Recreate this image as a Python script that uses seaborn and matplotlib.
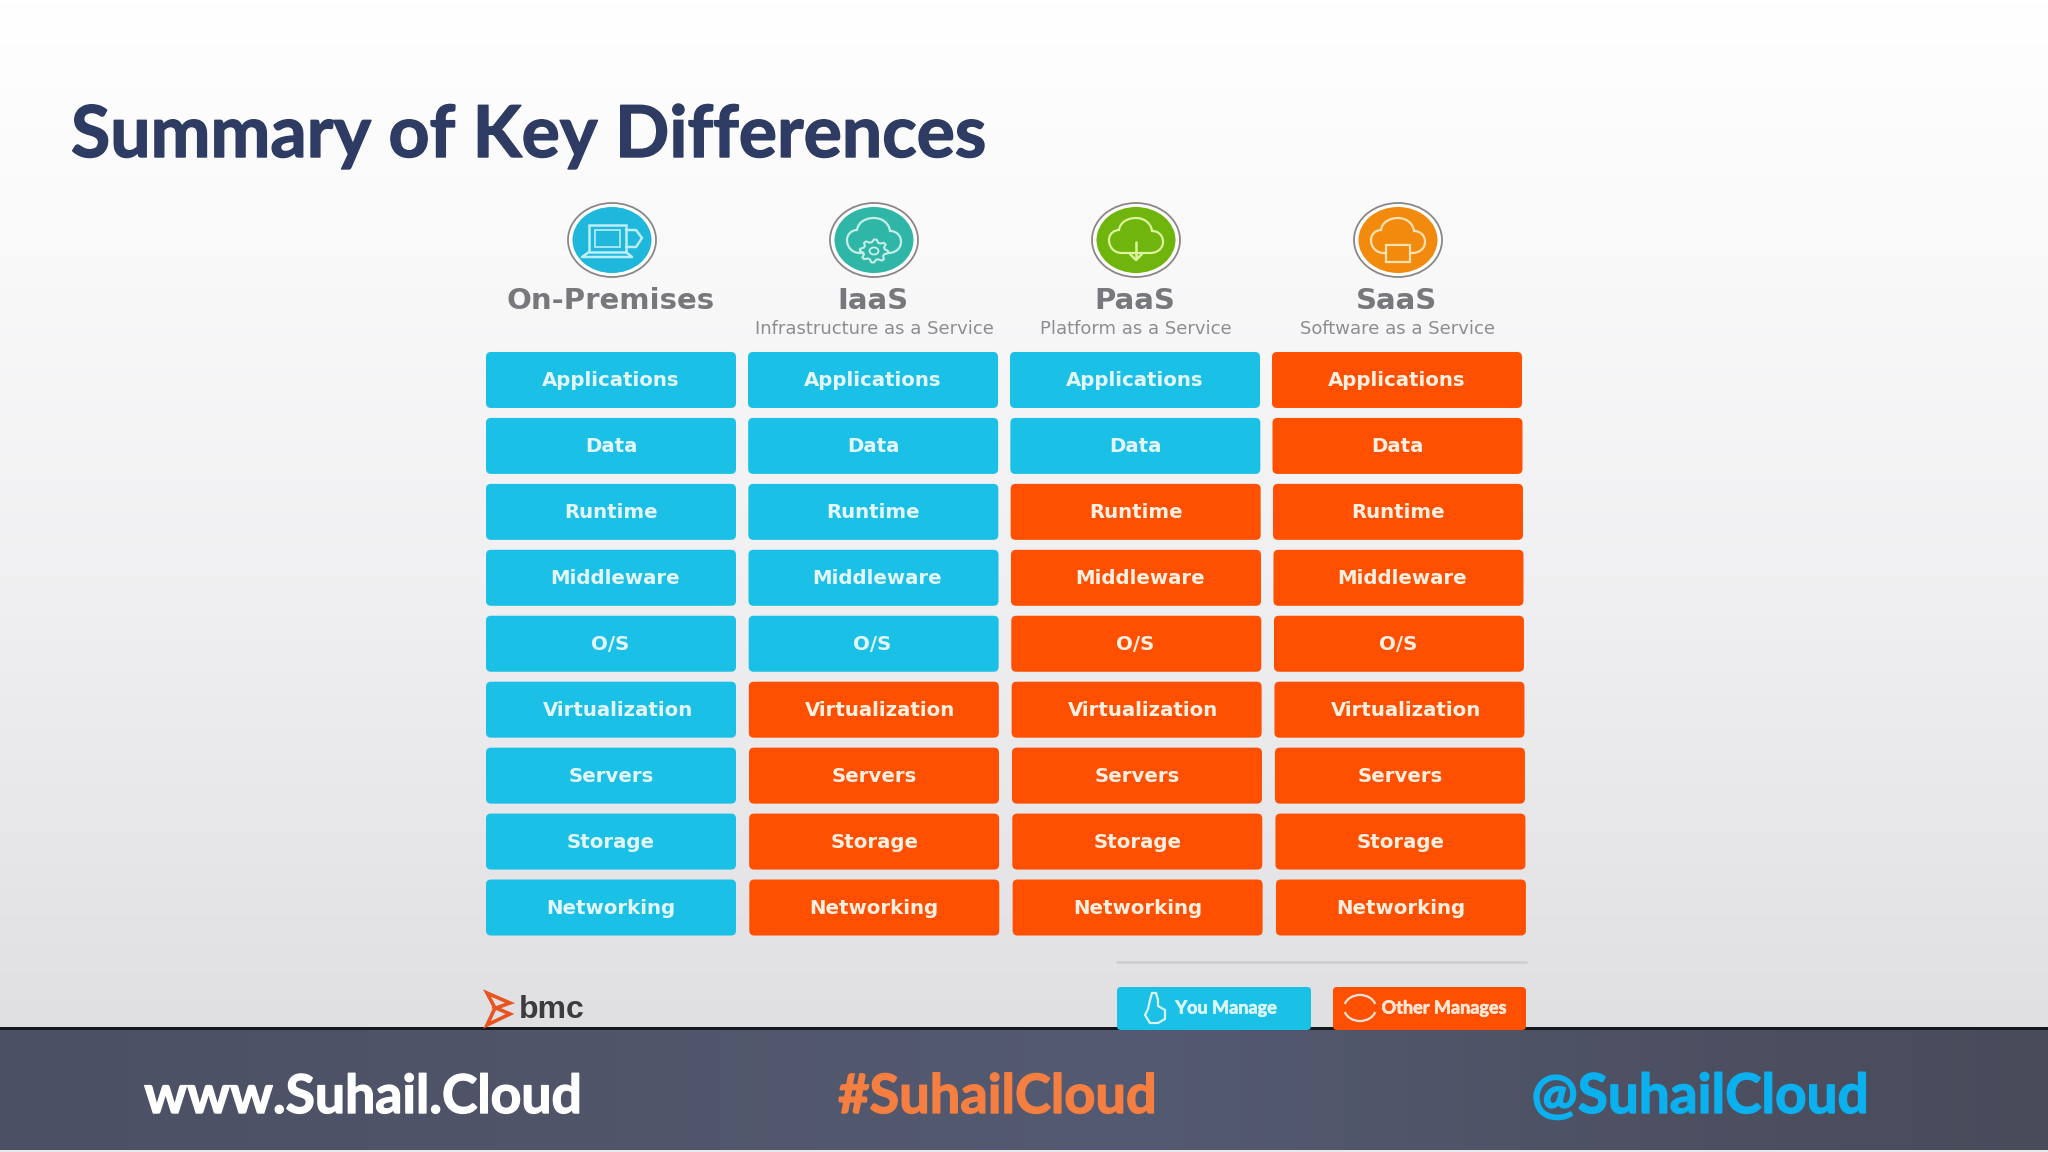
# -*- coding: utf-8 -*-
"""
Summary of Key Differences - on-premises / IaaS / PaaS / SaaS responsibility grid
"""

import numpy as np
import pandas as pd
import matplotlib.pyplot as plt
import matplotlib.patheffects as pe
import seaborn as sns
from matplotlib.colors import LinearSegmentedColormap
from matplotlib.markers import MarkerStyle
from matplotlib.patches import Arc, Ellipse, FancyBboxPatch, PathPatch, Polygon, Rectangle
from matplotlib.path import Path

# ===============================
# 1. DATA
# ===============================
layers = ["Applications", "Data", "Runtime", "Middleware", "O/S",
          "Virtualization", "Servers", "Storage", "Networking"]
platforms = ["On-Premises", "IaaS", "PaaS", "SaaS"]
subtitles = ["", "Infrastructure as a Service", "Platform as a Service", "Software as a Service"]

on_premises = ["You", "You", "You", "You", "You", "You", "You", "You", "You"]
iaas = ["You", "You", "You", "You", "You", "Other", "Other", "Other", "Other"]
paas = ["You", "You", "Other", "Other", "Other", "Other", "Other", "Other", "Other"]
saas = ["Other", "Other", "Other", "Other", "Other", "Other", "Other", "Other", "Other"]

BLUE = "#1bc0e6"
ORANGE = "#fe5000"
TITLE_BLUE = "#2e3b62"
GREY = "#77787c"

cells = pd.DataFrame({
    "platform": np.repeat(platforms, len(layers)),
    "layer": layers * len(platforms),
    "managed_by": on_premises + iaas + paas + saas,
})

# ===============================
# 2. FIGURE AND BACKGROUND
# ===============================
sns.set_theme(style="white")
plt.rcParams["font.family"] = ["Lato", "DejaVu Sans"]

W, H = 2048, 1152
fig = plt.figure(figsize=(W / 100, H / 100), dpi=100)

# pixel-coordinate axes for the slide decoration
bg = fig.add_axes([0, 0, 1, 1], zorder=0)
bg.axis("off")

back_cmap = LinearSegmentedColormap.from_list(
    "slide", [(0, "#ffffff"), (0.25, "#f9f9fa"), (0.6, "#efeff1"), (1, "#e0dfe2")])
bg.imshow(np.linspace(0, 1, 256).reshape(-1, 1), cmap=back_cmap, aspect="auto",
          extent=(0, W, 1028, 0), zorder=0)

foot_cmap = LinearSegmentedColormap.from_list(
    "slate", [(0, "#4b5064"), (0.3, "#50556a"), (0.55, "#545a71"), (0.8, "#4d5163"), (1, "#484b5a")])
bg.imshow(np.linspace(0, 1, 256).reshape(1, -1), cmap=foot_cmap, aspect="auto",
          extent=(0, W, 1150, 1028), zorder=1)
bg.set_xlim(0, W)
bg.set_ylim(H, 0)
bg.add_patch(Rectangle((0, 1027), W, 3, color="#17181d", lw=0, zorder=2))
bg.add_patch(Rectangle((0, 1150), W, 2, color="#e9e9ec", lw=0, zorder=2))


def heavy_text(x, y, label, size, color, width=1.0, **kwargs):
    # Lato bold is a bit light next to the source font, thicken it with a stroke
    t = bg.text(x, y, label, fontsize=size, fontweight="bold", color=color, va="baseline", **kwargs)
    t.set_path_effects([pe.withStroke(linewidth=width, foreground=color)])
    return t


heavy_text(71, 157, "Summary of Key Differences", 51.5, TITLE_BLUE, ha="left")
heavy_text(363, 1113, "www.Suhail.Cloud", 38.5, "white", ha="center")
heavy_text(997, 1113, "#SuhailCloud", 39, "#f47f41", ha="center")
heavy_text(1700, 1113, "@SuhailCloud", 39.5, "#0bb0ee", ha="center")

# ===============================
# 3. RESPONSIBILITY GRID
# ===============================
grid_left, grid_right = 480, 1528
grid_top, grid_bottom = 347, 940.5
ax = fig.add_axes([grid_left / W, 1 - grid_bottom / H,
                   (grid_right - grid_left) / W, (grid_bottom - grid_top) / H], zorder=1)
ax.patch.set_visible(False)

# rounded box marker, 250x56 px once the scatter size is applied
hw, hh, r = 0.5, 0.112, 0.02
box_path = Path(
    [(-hw + r, -hh), (hw - r, -hh), (hw, -hh), (hw, -hh + r), (hw, hh - r), (hw, hh), (hw - r, hh),
     (-hw + r, hh), (-hw, hh), (-hw, hh - r), (-hw, -hh + r), (-hw, -hh), (-hw + r, -hh), (-hw + r, -hh)],
    [Path.MOVETO, Path.LINETO, Path.CURVE3, Path.CURVE3, Path.LINETO, Path.CURVE3, Path.CURVE3,
     Path.LINETO, Path.CURVE3, Path.CURVE3, Path.LINETO, Path.CURVE3, Path.CURVE3, Path.CLOSEPOLY])

sns.scatterplot(data=cells, x="platform", y="layer", hue="managed_by",
                palette={"You": BLUE, "Other": ORANGE}, marker=MarkerStyle(box_path),
                s=180 ** 2, linewidth=0, legend=False, ax=ax)
ax.set_xlim(-0.5, 3.5)
ax.set_ylim(8.5, -0.5)
ax.axis("off")

# the source picture is very slightly sheared: lower right boxes sit further right
SHEAR = 0.000625
boxes = ax.collections[0]
offsets = np.asarray(boxes.get_offsets(), dtype=float)
offsets[:, 0] += offsets[:, 0] * offsets[:, 1] * SHEAR
boxes.set_offsets(offsets)

# some labels are off centre in the source picture (data units)
label_nudge = {"Middleware": 0.015, "Virtualization": 0.025, "O/S": -0.004}

for _, row in cells.iterrows():
    col = platforms.index(row["platform"])
    rw = layers.index(row["layer"])
    ax.text(col + col * rw * SHEAR + label_nudge.get(row["layer"], 0), rw + 0.012, row["layer"],
            fontsize=14.2, fontweight="bold", family="DejaVu Sans", ha="center", va="center",
            color="#e3f6fb" if row["managed_by"] == "You" else "#fff0e2")

# ===============================
# 4. COLUMN HEADERS AND ICONS
# ===============================
icon_x = [612, 874, 1136, 1398]
icon_y = 240
icon_colors = ["#1fb8dc", "#2fb6a6", "#6fb50e", "#f28a0e"]
line_colors = ["#bdeef8", "#c4efe8", "#dcf59a", "#ffe0b0"]

# cloud outline around the icon centre, pixels
cloud = Path(
    [(-14, 14), (-22, 14), (-27, 8), (-27, 1), (-27, -5), (-22, -9), (-17, -9),
     (-16, -17), (-8, -21), (0, -21), (8, -21), (15, -16), (16, -8),
     (22, -8), (27, -4), (27, 3), (27, 9), (22, 14), (14, 14), (-14, 14)],
    [Path.MOVETO, Path.CURVE4, Path.CURVE4, Path.CURVE4, Path.CURVE4, Path.CURVE4, Path.CURVE4,
     Path.CURVE4, Path.CURVE4, Path.CURVE4, Path.CURVE4, Path.CURVE4, Path.CURVE4,
     Path.CURVE4, Path.CURVE4, Path.CURVE4, Path.CURVE4, Path.CURVE4, Path.CURVE4, Path.LINETO])

# gear outline for the IaaS icon
angles = np.linspace(0, 2 * np.pi, 33)[:-1]
gear_r = np.array([1.0, 1.0, 0.78, 0.78] * 8)
gear = np.column_stack([14 * gear_r * np.cos(angles), 11.5 * gear_r * np.sin(angles)])


def line(pts, cx, color, lw=1.8):
    xs, ys = zip(*pts)
    bg.plot(np.array(xs) + cx, np.array(ys) + icon_y, color=color, lw=lw, zorder=4,
            solid_capstyle="round")


for i, cx in enumerate(icon_x):
    bg.add_patch(Ellipse((cx, icon_y), 88, 74, fc="#ffffff", ec="#8b8688", lw=1.3, zorder=3))
    bg.add_patch(Ellipse((cx, icon_y), 79, 66, fc=icon_colors[i], lw=0, zorder=3))
    lc = line_colors[i]
    if i == 0:
        # laptop with a disc behind it
        bg.add_patch(Rectangle((cx - 23, icon_y - 15), 37, 27, fc="none", ec=lc, lw=1.8, zorder=4))
        bg.add_patch(Rectangle((cx - 17, icon_y - 10), 25, 17, fc="none", ec=lc, lw=1.2, zorder=4))
        line([(-23, 12), (-30, 17), (20, 17), (14, 12)], cx, lc)
        line([(14, -10), (24, -10), (30, -2), (24, 7), (14, 7)], cx, lc)
    else:
        shift = Path(cloud.vertices + [cx, icon_y - 1], cloud.codes)
        bg.add_patch(PathPatch(shift, fc="none", ec=lc, lw=1.6, zorder=4))
    if i == 1:
        # gear sitting on the cloud
        bg.add_patch(Polygon(gear + [cx, icon_y + 11], fc=icon_colors[i], ec=lc, lw=1.5, zorder=5))
        bg.add_patch(Ellipse((cx, icon_y + 11), 9, 7, fc="none", ec=lc, lw=1.3, zorder=5))
    if i == 2:
        # download arrow
        line([(0, 2), (0, 19)], cx, lc)
        line([(-6, 14), (0, 20), (6, 14)], cx, lc)
    if i == 3:
        # small window under the cloud
        bg.add_patch(Rectangle((cx - 12, icon_y + 5), 24, 17, fc=icon_colors[i], ec=lc, lw=1.6, zorder=5))
        line([(-8, 11), (8, 11)], cx, lc, lw=3)

    bg.text(cx - 1, 309, platforms[i], fontsize=21, fontweight="bold", color=GREY,
            ha="center", va="baseline", family="DejaVu Sans")
    if subtitles[i]:
        bg.text(cx, 334, subtitles[i], fontsize=13, color="#8c8d90",
                ha="center", va="baseline", family="DejaVu Sans")

# ===============================
# 5. LOGO AND LEGEND
# ===============================
bg.add_patch(Polygon([(487, 993), (510, 1003), (496, 1008), (510, 1014), (487, 1025), (495, 1008)],
                     closed=True, fc="none", ec="#e8531f", lw=2.6, zorder=4))
bg.text(519, 1018, "bmc", fontsize=23, fontweight="bold", color="#3c3c40", ha="left", va="baseline",
        family="Liberation Sans")

bg.plot([1117, 1526], [962, 962], color="#cfced3", lw=2, zorder=3)

for x0, x1, color, label, tcolor, tx in [
    (1117, 1311, BLUE, "You Manage", "#d8f6fb", 1226),
    (1333, 1526, ORANGE, "Other Manages", "#ffe6d5", 1444),
]:
    bg.add_patch(FancyBboxPatch((x0 + 3, 990), x1 - x0 - 6, 37, boxstyle="round,pad=3,rounding_size=4",
                                fc=color, lw=0, zorder=5))
    leg = bg.text(tx, 1008, label, fontsize=13, fontweight="bold", color=tcolor, ha="center", va="center",
                  zorder=6)
    leg.set_path_effects([pe.withStroke(linewidth=0.5, foreground=tcolor)])

# hand and refresh glyphs on the legend buttons
bg.plot([1150, 1152, 1156, 1158, 1158, 1165, 1165, 1158, 1150, 1145, 1148, 1150],
        [1000, 993, 993, 1000, 1006, 1010, 1019, 1023, 1023, 1015, 1009, 1000],
        color="#d8f6fb", lw=1.6, zorder=6)
bg.add_patch(Arc((1360, 1008), 32, 26, theta1=15, theta2=165, ec="#ffe6d5", lw=1.6, zorder=6))
bg.add_patch(Arc((1360, 1008), 32, 26, theta1=195, theta2=345, ec="#ffe6d5", lw=1.6, zorder=6))

fig.savefig("out.png", dpi=100)
plt.close(fig)
